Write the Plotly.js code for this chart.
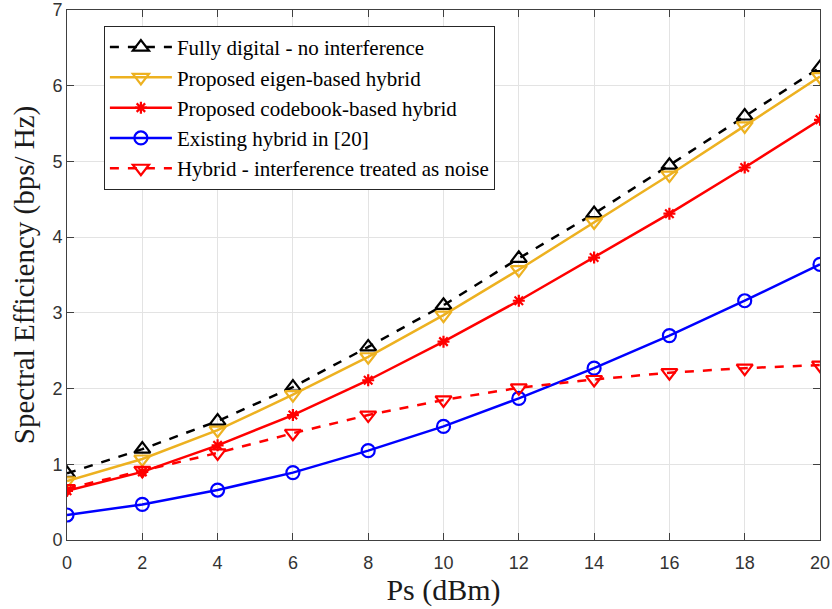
<!DOCTYPE html>
<html>
<head>
<meta charset="utf-8">
<script src="https://cdn.plot.ly/plotly-3.0.1.min.js"></script>
<style>html,body{margin:0;padding:0;background:#fff;}#chart{width:832px;height:609px;}</style>
</head>
<body>
<div id="chart"></div>
<script>
const ps = [0, 2, 4, 6, 8, 10, 12, 14, 16, 18, 20];
const fullyDigital = [0.88, 1.20, 1.57, 2.02, 2.55, 3.10, 3.72, 4.31, 4.95, 5.60, 6.24];
const eigenHybrid = [0.78, 1.07, 1.45, 1.92, 2.42, 2.97, 3.57, 4.20, 4.82, 5.47, 6.12];
const codebookHybrid = [0.65, 0.90, 1.25, 1.65, 2.11, 2.62, 3.16, 3.73, 4.31, 4.92, 5.55];
const existingHybrid = [0.33, 0.47, 0.66, 0.89, 1.18, 1.50, 1.87, 2.27, 2.70, 3.16, 3.64];
const interfNoise = [0.68, 0.92, 1.15, 1.41, 1.65, 1.85, 2.01, 2.12, 2.21, 2.27, 2.31];
const names = ["Fully digital - no interference", "Proposed eigen-based hybrid", "Proposed codebook-based hybrid", "Existing hybrid in [20]", "Hybrid - interference treated as noise"];

const serif = 'Liberation Serif';
function tr(y, name, color, dash, symbol, msize) {
  return {x: ps, y: y, name: name, type: 'scatter', mode: 'lines+markers',
    line: {color: color, width: 2.5, dash: dash},
    marker: {symbol: symbol, size: msize, color: color, line: {color: color, width: 2.2}}};
}
const data = [
  tr(fullyDigital, names[0], '#000000', 'dash', 'triangle-up-open', 14),
  tr(eigenHybrid, names[1], '#EDB120', 'solid', 'triangle-down-open', 14),
  tr(codebookHybrid, names[2], '#FF0000', 'solid', 'asterisk-open', 10),
  tr(existingHybrid, names[3], '#0000FF', 'solid', 'circle-open', 13),
  tr(interfNoise, names[4], '#FF0000', 'dash', 'triangle-down-open', 14)
];
const axisCommon = {
  showline: true, linecolor: '#404040', linewidth: 1, mirror: 'ticks',
  ticks: 'inside', ticklen: 7, tickcolor: '#404040',
  showgrid: true, gridcolor: '#e3e3e3', gridwidth: 1, zeroline: false,
  tickfont: {family: 'Liberation Sans', size: 18, color: '#333333'}
};
const layout = {
  width: 832, height: 609,
  margin: {l: 67, r: 12, t: 10, b: 69},
  paper_bgcolor: '#ffffff', plot_bgcolor: '#ffffff',
  showlegend: true,
  xaxis: Object.assign({}, axisCommon, {range: [0, 20], dtick: 2, tick0: 0, ticklabelstandoff: 6,
    title: {text: 'Ps (dBm)', font: {family: serif, size: 30, color: '#1a1a1a'}, standoff: 6}}),
  yaxis: Object.assign({}, axisCommon, {range: [0, 7], dtick: 1, tick0: 0,
    title: {text: 'Spectral Efficiency (bps/ Hz)', font: {family: serif, size: 29, color: '#1a1a1a'}, standoff: 9}}),
  legend: {x: 0.049, y: 0.97, xanchor: 'left', yanchor: 'top',
    bgcolor: '#ffffff', bordercolor: '#262626', borderwidth: 1,
    font: {family: serif, size: 21, color: '#000'},
    tracegroupgap: 0, itemwidth: 62}
};
Plotly.newPlot('chart', data, layout, {displayModeBar: false, staticPlot: true});
</script>
</body>
</html>
